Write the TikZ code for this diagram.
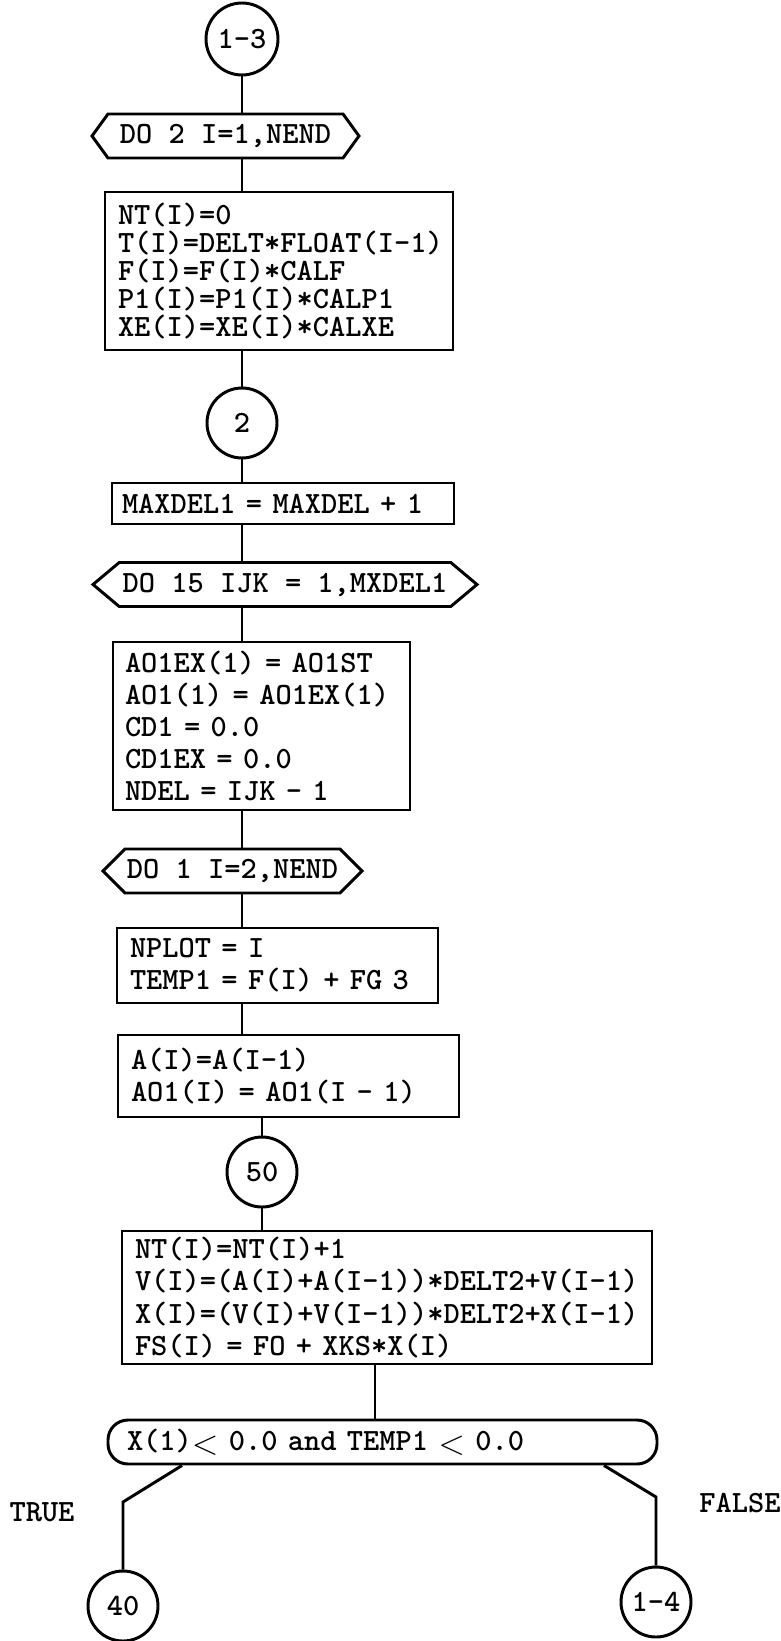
\documentclass[tikz,border=0pt]{standalone}
\usepackage{tikz}
\usetikzlibrary{positioning, shapes.symbols}

\newcommand\ltSign{\raisebox{-3pt}{\fontsize{38}{38}\selectfont$<$}}

\begin{document}
\begin{tikzpicture}[
    font=\ttfamily\bfseries\fontsize{22}{22.8}\selectfont,
    flowLine/.style={line width=2.1pt},
    connNode/.style={circle, draw, line width=2.1pt, minimum size=1.75cm, inner sep=0pt},
    loopNode/.style={signal, signal to=west and east, draw, line width=2.1pt, minimum height=1.1cm, inner xsep=0pt},
    procBox/.style={rectangle, draw, line width=2.1pt, align=left, inner xsep=0.325cm, inner ysep=0pt},
    testNode/.style={rectangle, rounded corners=0.5cm, draw, line width=2.1pt, align=left, inner xsep=0.475cm, inner ysep=0pt, minimum height=1.1cm}
]
    \useasboundingbox (0,0) rectangle (19.525,-41.025);

    % Entry and first loop
    \node[connNode, minimum size=1.8cm] (c13) at (6.05,-0.975) {1-3};
    \node[loopNode, minimum width=6.675cm, signal pointer angle=108] (do2) at (5.6375,-3.4) {DO 2 I=1,NEND};
    \node[procBox, text width=8.05cm, minimum height=3.95cm, font=\ttfamily\bfseries\fontsize{22}{19.9}\selectfont] (init) at (6.975,-6.775)
        {NT(I)=0\\T(I)=DELT*FLOAT(I-1)\\F(I)=F(I)*CALF\\P1(I)=P1(I)*CALP1\\XE(I)=XE(I)*CALXE};
    \node[connNode] (c2) at (6.05,-10.575) {2};

    % Outer loop over IJK
    \node[procBox, text width=8.05cm, minimum height=1.025cm, inner xsep=0.25cm] (maxdel) at (7.075,-12.5875) {MAXDEL1 = MAXDEL + 1};
    \node[loopNode, minimum width=9.6cm, signal pointer angle=80] (do15) at (7.125,-14.6125) {DO 15 IJK = 1,MXDEL1};
    \node[procBox, text width=6.825cm, minimum height=4.2cm, inner xsep=0.3cm] (start) at (6.5375,-18.15)
        {AO1EX(1) = AO1ST\\AO1(1) = AO1EX(1)\\CD1 = 0.0\\CD1EX = 0.0\\NDEL = IJK - 1};

    % Inner loop over I
    \node[loopNode, minimum width=6.475cm, signal pointer angle=90] (do1) at (5.8125,-21.775) {DO 1 I=2,NEND};
    \node[procBox, text width=7.375cm, minimum height=1.875cm] (nplot) at (6.9375,-24.1375) {NPLOT = I\\TEMP1 = F(I) + FG 3};
    \node[procBox, text width=7.875cm, minimum height=2.05cm] (shift) at (7.2125,-26.9) {A(I)=A(I-1)\\AO1(I) = AO1(I - 1)};
    \node[connNode] (c50) at (6.55,-29.3) {50};
    \node[procBox, text width=12.6cm, minimum height=3.325cm] (integ) at (9.675,-32.4375)
        {NT(I)=NT(I)+1\\V(I)=(A(I)+A(I-1))*DELT2+V(I-1)\\X(I)=(V(I)+V(I-1))*DELT2+X(I-1)\\FS(I) = FO + XKS*X(I)};

    % Test and exits
    \node[testNode, text width=12.775cm] (test) at (9.5625,-36.05) {X(1)\ltSign{} 0.0 and TEMP1 \ltSign{} 0.0};
    \node (trueLbl) at (1.05,-37.8) {TRUE};
    \node (falseLbl) at (18.5,-37.575) {FALSE};
    \coordinate (tBend) at (3.075,-37.55);
    \coordinate (fBend) at (16.4,-37.425);
    \node[connNode] (c40) at (3.075,-40.15) {40};
    \node[connNode] (c14) at (16.4,-40.05) {1-4};

    % Flow lines
    \draw[flowLine] (c13) -- (c13 |- do2.north);
    \draw[flowLine] (c13 |- do2.south) -- (c13 |- init.north);
    \draw[flowLine] (c2 |- init.south) -- (c2);
    \draw[flowLine] (c2) -- (c2 |- maxdel.north);
    \draw[flowLine] (c2 |- maxdel.south) -- (c2 |- do15.north);
    \draw[flowLine] (c2 |- do15.south) -- (c2 |- start.north);
    \draw[flowLine] (c2 |- start.south) -- (c2 |- do1.north);
    \draw[flowLine] (c2 |- do1.south) -- (c2 |- nplot.north);
    \draw[flowLine] (c2 |- nplot.south) -- (c2 |- shift.north);
    \draw[flowLine] (c50 |- shift.south) -- (c50);
    \draw[flowLine] (c50) -- (c50 |- integ.north);
    \draw[flowLine] ([xshift=-0.3cm]integ.south) -- ([xshift=-0.3cm]integ.south |- test.north);
    \draw[flowLine] ([xshift=-5.0125cm]test.south) -- (tBend) -- (c40);
    \draw[flowLine] ([xshift=5.5375cm]test.south) -- (fBend) -- (c14);
\end{tikzpicture}
\end{document}
